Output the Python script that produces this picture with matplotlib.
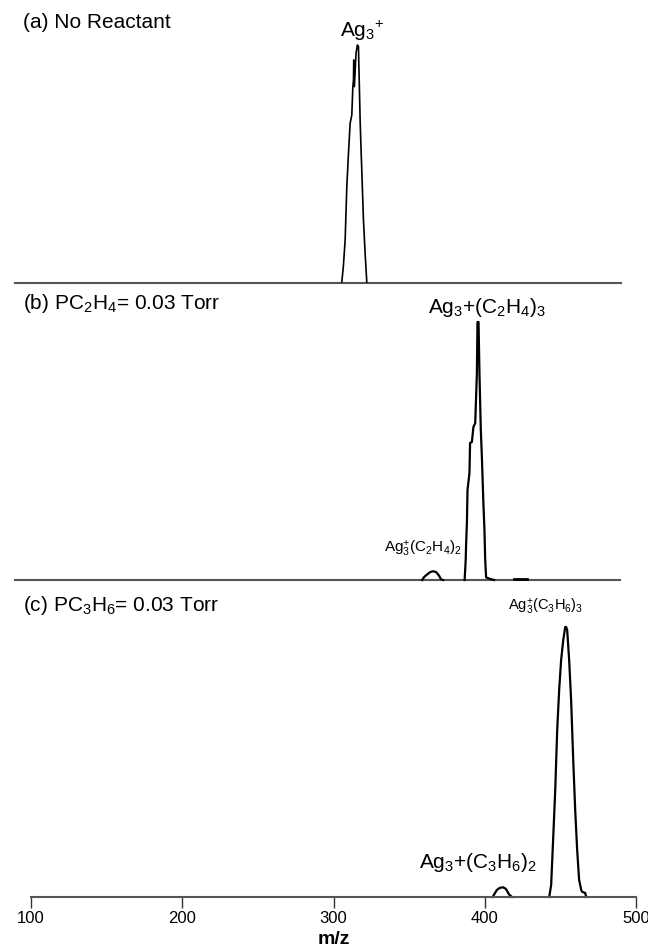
import matplotlib
matplotlib.use("Agg")
import matplotlib.pyplot as plt

plt.rcParams['font.family'] = ['Liberation Sans', 'DejaVu Sans']
plt.rcParams['mathtext.fontset'] = 'custom'
plt.rcParams['mathtext.rm'] = 'Liberation Sans'
plt.rcParams['mathtext.it'] = 'Liberation Sans:italic'
plt.rcParams['mathtext.bf'] = 'Liberation Sans:bold'
plt.rcParams['mathtext.default'] = 'regular'

# ---------------- data (m/z, relative intensity) ----------------
# (a) No reactant: Ag3+ peak
mz_a = [305.5, 306.5, 307.7, 308.8, 309.9, 311.0, 312.1, 312.8, 313.2, 313.4,
        313.8, 314.9, 315.8, 316.5, 317.1, 317.6, 318.3, 318.7, 319.8, 320.9, 322.0]
int_a = [0.005, 0.068, 0.181, 0.405, 0.545, 0.671, 0.706, 0.825, 0.853, 0.937,
         0.825, 0.966, 1.0, 0.993, 0.825, 0.685, 0.546, 0.475, 0.265, 0.126, 0.005]
base_a = [89.5, 490.0]

# (b) C2H4: Ag3+(C2H4)2 small hump, Ag3+(C2H4)3 main peak, small blip
mz_b_hump = [358.6, 360.0, 362.0, 364.0, 366.0, 368.0, 370.0, 371.0, 372.5]
int_b_hump = [0.0, 0.012, 0.022, 0.031, 0.034, 0.030, 0.015, 0.003, 0.0]
mz_b = [386.7, 387.4, 387.7, 388.2, 388.6, 389.9, 390.3, 391.5, 392.5, 393.7,
        394.8, 395.2, 395.9, 396.5, 397.4, 398.1, 399.1, 399.8, 400.3, 400.9,
        403.6, 406.2]
int_b = [0.0, 0.078, 0.143, 0.221, 0.349, 0.415, 0.531, 0.535, 0.593, 0.608,
         0.802, 1.0, 1.0, 0.802, 0.581, 0.477, 0.298, 0.194, 0.078, 0.01,
         0.004, 0.0]
mz_b_blip = [419.4, 428.0]
int_b_blip = [0.005, 0.005]
base_b = [89.5, 489.6]

# (c) C3H6: Ag3+(C3H6)2 small hump, Ag3+(C3H6)3 main peak
mz_c_hump = [405.2, 406.5, 408.0, 410.0, 412.0, 414.0, 416.0, 418.0]
int_c_hump = [0.0, 0.012, 0.026, 0.034, 0.036, 0.030, 0.010, 0.0]
mz_c = [442.6, 443.9, 445.2, 446.6, 447.9, 449.2, 450.5, 451.9, 453.2, 453.8,
        454.5, 455.8, 457.1, 458.5, 459.8, 461.1, 462.4, 463.8, 464.4, 466.4,
        467.1]
int_c = [0.0, 0.044, 0.211, 0.396, 0.619, 0.767, 0.878, 0.952, 1.0, 1.0,
         0.989, 0.878, 0.730, 0.507, 0.322, 0.174, 0.063, 0.026, 0.019, 0.015,
         0.0]
base_c = [100.0, 500.0]

xticks = [100, 200, 300, 400, 500]
xlabel = "m/z"

# ---------------- figure ----------------
W, H = 648, 950
fig = plt.figure(figsize=(W / 100, H / 100), dpi=100)

def frac_rect(left_px, top_px, right_px, bottom_px):
    return [left_px / W, 1 - bottom_px / H, (right_px - left_px) / W,
            (bottom_px - top_px) / H]

ax_a = fig.add_axes(frac_rect(31, 45, 636, 283))
ax_b = fig.add_axes(frac_rect(31, 322, 636, 580))
ax_c = fig.add_axes(frac_rect(31, 627, 636, 897))

base_col = '#555555'
for ax in (ax_a, ax_b, ax_c):
    ax.set_xlim(100, 500)
    ax.set_ylim(0, 1)
    ax.patch.set_alpha(0)
    for s in ax.spines.values():
        s.set_visible(False)
    ax.set_yticks([])

for ax in (ax_a, ax_b):
    ax.set_xticks([])

ax_a.plot(base_a, [0, 0], color=base_col, lw=1.5, clip_on=False)
ax_a.plot(mz_a, int_a, color='black', lw=1.2, clip_on=False)

ax_b.plot(base_b, [0, 0], color=base_col, lw=1.5, clip_on=False)
ax_b.plot(mz_b_hump, int_b_hump, color='black', lw=1.6, clip_on=False)
ax_b.plot(mz_b, int_b, color='black', lw=1.6, clip_on=False)
ax_b.plot(mz_b_blip, int_b_blip, color='black', lw=2.0, clip_on=False)

ax_c.plot(mz_c_hump, int_c_hump, color='black', lw=1.6, clip_on=False)
ax_c.plot(mz_c, int_c, color='black', lw=1.6, clip_on=False)
ax_c.spines['bottom'].set_visible(True)
ax_c.spines['bottom'].set_color(base_col)
ax_c.spines['bottom'].set_linewidth(1.5)
ax_c.set_xticks(xticks)
ax_c.set_xticklabels([str(t) for t in xticks])
ax_c.tick_params(axis='x', direction='out', length=8, width=1.0,
                 color='#333333', labelsize=12, pad=2)
ax_c.set_xlabel(xlabel, fontsize=14, fontweight='bold', labelpad=4)

def ftext(x_px, y_px, s, **kw):
    fig.text(x_px / W, 1 - y_px / H, s, **kw)

# panel titles
ftext(23, 28, "(a) No Reactant", fontsize=15, va='baseline', ha='left')
ftext(23, 309, "(b) PC$_2$H$_4$= 0.03 Torr", fontsize=15, va='baseline', ha='left')
ftext(23, 611, "(c) PC$_3$H$_6$= 0.03 Torr", fontsize=15, va='baseline', ha='left')

# peak labels
ftext(362, 37, "Ag$_3$$^{+}$", fontsize=15, va='baseline', ha='center')
ftext(487, 313, "Ag$_3$+(C$_2$H$_4$)$_3$", fontsize=15, va='baseline', ha='center')
ftext(423, 553, "Ag$_3^{+}$(C$_2$H$_4$)$_2$", fontsize=11, va='baseline', ha='center')
ftext(546, 611, "Ag$_3^{+}$(C$_3$H$_6$)$_3$", fontsize=10.5, va='baseline', ha='center')
ftext(478, 868, "Ag$_3$+(C$_3$H$_6$)$_2$", fontsize=15, va='baseline', ha='center')

fig.savefig("out.png", dpi=100)
